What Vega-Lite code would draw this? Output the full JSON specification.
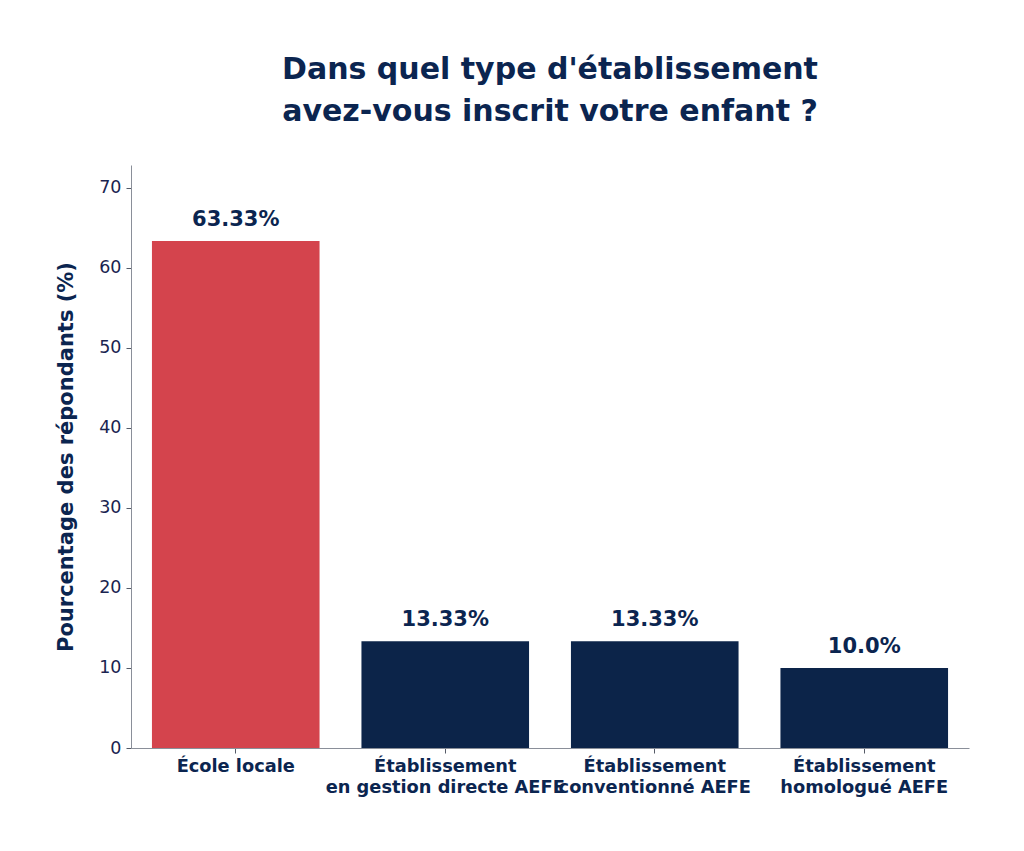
{
  "$schema": "https://vega.github.io/schema/vega-lite/v6.json",
  "autosize": {"type": "none"},
  "padding": {"left": 131, "top": 165, "right": 55, "bottom": 103},
  "width": 838,
  "height": 583,
  "background": "white",
  "title": {
    "text": ["Dans quel type d'établissement", "avez-vous inscrit votre enfant ?"],
    "font": "DejaVu Sans",
    "fontSize": 30,
    "fontWeight": "bold",
    "color": "#0b2550",
    "lineHeight": 42,
    "anchor": "middle",
    "frame": "group",
    "offset": 38
  },
  "config": {
    "view": {"stroke": null},
    "font": "DejaVu Sans"
  },
  "data": {
    "values": [
      {"cat": "École locale", "pct": 63.33, "label": "63.33%", "hl": "a"},
      {"cat": "Établissement|en gestion directe AEFE", "pct": 13.33, "label": "13.33%", "hl": "b"},
      {"cat": "Établissement|conventionné AEFE", "pct": 13.33, "label": "13.33%", "hl": "b"},
      {"cat": "Établissement|homologué AEFE", "pct": 10.0, "label": "10.0%", "hl": "b"}
    ]
  },
  "encoding": {
    "x": {
      "field": "cat",
      "type": "nominal",
      "sort": null,
      "scale": {"paddingInner": 0.2, "paddingOuter": 0.1},
      "axis": {
        "title": null,
        "labelAngle": 0,
        "labelExpr": "split(datum.label, '|')",
        "labelFont": "DejaVu Sans",
        "labelFontSize": 17.8,
        "labelFontWeight": "bold",
        "labelColor": "#0b2550",
        "labelLineHeight": 21,
        "labelOverlap": false,
        "labelBound": false,
        "labelLimit": 0,
        "labelPadding": 4,
        "domainColor": "#8a8f99",
        "tickColor": "#555a66",
        "tickSize": 5
      }
    },
    "y": {
      "field": "pct",
      "type": "quantitative",
      "scale": {"domain": [0, 72.83], "nice": false},
      "axis": {
        "title": "Pourcentage des répondants (%)",
        "titleFont": "DejaVu Sans",
        "titleFontSize": 21,
        "titleFontWeight": "bold",
        "titleColor": "#0b2550",
        "titlePadding": 22,
        "values": [0, 10, 20, 30, 40, 50, 60, 70],
        "grid": false,
        "labelFont": "DejaVu Sans",
        "labelFontSize": 17.5,
        "labelColor": "#1a2450",
        "labelPadding": 5,
        "domainColor": "#8a8f99",
        "tickColor": "#555a66",
        "tickSize": 5
      }
    }
  },
  "layer": [
    {
      "mark": {"type": "bar"},
      "encoding": {
        "color": {
          "field": "hl",
          "type": "nominal",
          "scale": {"domain": ["a", "b"], "range": ["#d4444d", "#0c2449"]},
          "legend": null
        }
      }
    },
    {
      "mark": {
        "type": "text",
        "baseline": "bottom",
        "dy": -11,
        "font": "DejaVu Sans",
        "fontSize": 21,
        "fontWeight": "bold",
        "color": "#0b2550"
      },
      "encoding": {"text": {"field": "label"}}
    }
  ]
}
